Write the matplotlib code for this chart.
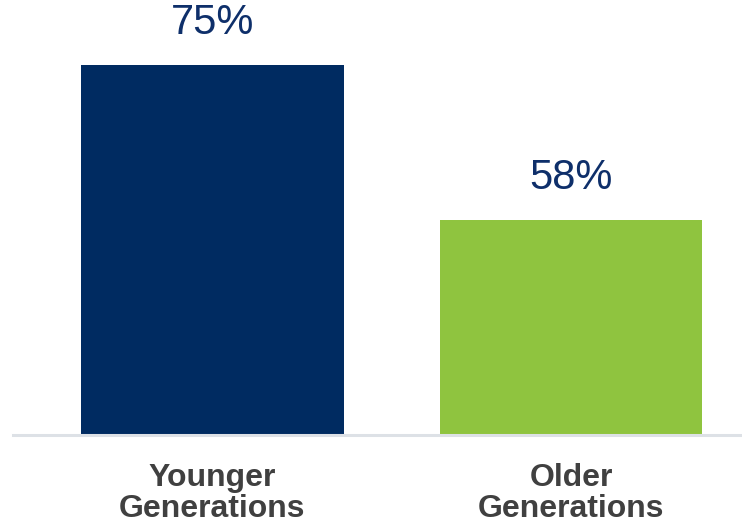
import matplotlib; matplotlib.use("Agg")
import matplotlib.pyplot as plt

categories = ["Younger\nGenerations", "Older\nGenerations"]
values = [75, 58]
colors = ["#002b61", "#8fc43f"]

plt.rcParams.update({"font.family": ["Liberation Sans", "DejaVu Sans"]})
fig = plt.figure(figsize=(7.42, 5.26), dpi=100)
ax = fig.add_axes([13/742, 1-435/526, 1-13/742, 435/526])

x = range(len(values))
bars = ax.bar(x, values, width=0.733, color=colors)
for b, v in zip(bars, values):
    ax.annotate(f"{v}%", (b.get_x()+b.get_width()/2, v), xytext=(0, 16), textcoords="offset points",
                ha="center", va="bottom", fontsize=30, color="#0e2f6a", annotation_clip=False)

ax.set_xlim(-0.556, 1.477)
ax.set_ylim(34.4, 82.1)
ax.set_yticks([])
ax.set_xticks(list(x))
ax.set_xticklabels(categories, fontsize=23, fontweight="bold", color="#404040")
for t in ax.get_xticklabels():
    t.set_linespacing(1.05)
ax.tick_params(axis="x", length=0, pad=20)
for s in ["top", "right", "left"]:
    ax.spines[s].set_visible(False)
ax.spines["bottom"].set_color("#dde1e6")
ax.spines["bottom"].set_linewidth(2.2)
fig.savefig("out.png", dpi=100)
